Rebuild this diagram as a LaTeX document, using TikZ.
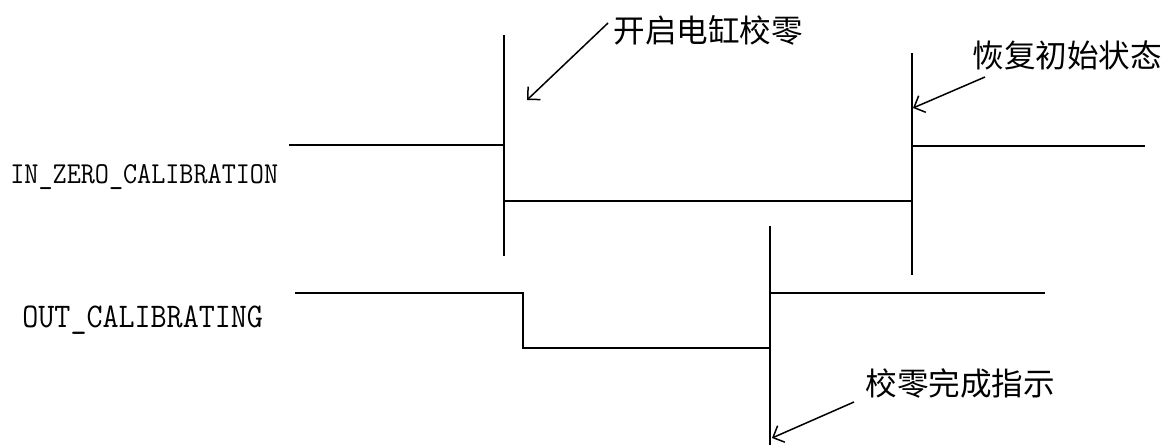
\documentclass[tikz,border=0pt]{standalone}
\usepackage{fontspec}
\newfontfamily\cjkfont{Noto Sans CJK SC}
\newfontfamily\sigfont{Latin Modern Mono}[FakeStretch=0.9]
\usetikzlibrary{arrows.meta}
\tikzset{
  wave/.style={line width=1pt},
  pointer/.style={line width=0.75pt, -{Straight Barb[length=4.5pt, width=9pt]}},
  note/.style={font=\cjkfont\fontsize{15.8}{18}\selectfont, inner sep=0pt, anchor=west},
  signame/.style={font=\sigfont\fontsize{#1}{18}\selectfont, inner sep=0pt, anchor=west},
}
\begin{document}
\begin{tikzpicture}[x=0.5pt, y=-0.5pt]
        \useasboundingbox (0, 0) rectangle (1173, 445);
        
        % ---signal names
        \node[signame=15.2] (inzero) at (10, 177) {IN\_ZERO\_CALIBRATION};
        \node[signame=17.3] (outcal) at (22, 320) {OUT\_CALIBRATING};
        
        % ---IN_ZERO_CALIBRATION
        \draw[wave] (289, 145) -- (504, 145);
        \draw[wave] (504, 35) -- (504, 256);
        \draw[wave] (504, 201) -- (912, 201);
        \draw[wave] (912, 53) -- (912, 275);
        \draw[wave] (912, 146) -- (1145, 146);
        
        % ---OUT_CALIBRATING
        \draw[wave] (295, 293) -- (523, 293) -- (523, 348) -- (770, 348);
        \draw[wave] (770, 226) -- (770, 445);
        \draw[wave] (770, 293) -- (1045, 293);
        
        % ---notes
        \node[note] (start) at (613, 30) {开启电缸校零};
        \node[note] (reset) at (972, 55) {恢复初始状态};
        \node[note] (done) at (865, 383) {校零完成指示};
        
        \coordinate (starttail) at (608, 23);
        \coordinate (starttip) at (527, 100);
        \coordinate (resettail) at (985, 77);
        \coordinate (resettip) at (913, 108);
        \coordinate (donetail) at (854, 402);
        \coordinate (donetip) at (772, 438);
        
        \draw[pointer] (starttail) -- (starttip);
        \draw[pointer] (resettail) -- (resettip);
        \draw[pointer] (donetail) -- (donetip);
        
    \end{tikzpicture}
\end{document}
